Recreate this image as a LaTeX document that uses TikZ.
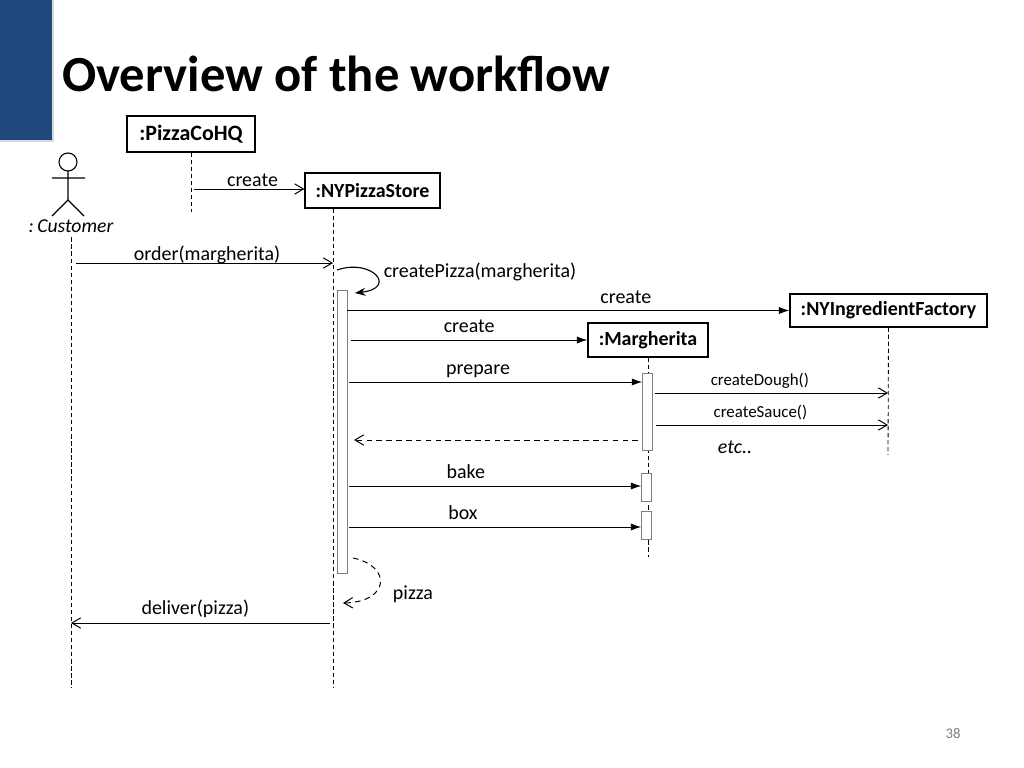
\documentclass[tikz,border=0pt]{standalone}
\usepackage{fontspec}
\setmainfont{Carlito}
\usetikzlibrary{arrows.meta}
\definecolor{slideblue}{HTML}{1F497D}
\definecolor{actgray}{HTML}{7F7F7F}

\begin{document}
\begin{tikzpicture}[x=0.025cm,y=-0.025cm,
    font=\fontsize{14.2}{17}\selectfont,
    obj/.style={draw,line width=0.9pt,fill=white,font=\fontsize{14.2}{17}\selectfont\bfseries},
    act/.style={draw=actgray,fill=white,minimum width=0.25cm,inner sep=0pt},
    life/.style={dash pattern=on 3pt off 2pt,line width=0.6pt},
    call/.style={-{Latex[length=2.6mm,width=1.8mm]},line width=0.7pt},
    msg/.style={-{Straight Barb[length=2.2mm,width=2.6mm]},line width=0.7pt},
    reply/.style={msg,dash pattern=on 4pt off 3pt},
    lbl/.style={anchor=base,yshift=5pt,inner sep=0pt},
    small/.style={font=\fontsize{12}{14}\selectfont}]
    \useasboundingbox (0,0) rectangle (1024,768);
    \fill[black!15] (0,0) rectangle (54,142);
    \fill[slideblue] (0,0) rectangle (52,140);
    \node[anchor=base west,inner sep=0pt,font=\fontsize{36}{42}\selectfont\bfseries] (title) at (62,92) {Overview of the workflow};

    % objects
    \node[obj,minimum width=3.2cm,minimum height=0.9cm,font=\fontsize{15.6}{18}\selectfont\bfseries] (hq) at (191,134) {:PizzaCoHQ};
    \node[obj,minimum width=3.375cm,minimum height=0.875cm] (store) at (372.5,190.5) {:NYPizzaStore};
    \node[obj,minimum width=4.925cm,minimum height=0.825cm] (fac) at (888.5,310.5) {:NYIngredientFactory};
    \node[obj,minimum width=3cm,minimum height=0.85cm] (mar) at (648,340) {:Margherita};

    % customer
    \draw[line width=0.8pt] (68,162) circle[radius=0.225cm];
    \draw[line width=0.8pt] (68,171) -- (68,200) (52,178) -- (85,178)
        (52,216) -- (68,200) -- (84,216);
    \node[font=\fontsize{14}{17}\selectfont\itshape] (cust) at (71,226) {:\,Customer};

    % lifelines
    \coordinate (hqend) at (191,212);
    \coordinate (custend) at (71,688);
    \coordinate (storeend) at (333,688);
    \coordinate (facend) at (888,455);
    \coordinate (marend) at (648,557);
    \draw[life] (hq.south) -- (hqend);
    \draw[life] (cust.south -| custend) -- (custend);
    \draw[life] (store.south -| storeend) -- (storeend);
    \draw[life] (fac.south) -- (facend);
    \draw[life] (mar.south) -- (marend);

    % activations
    \node[act,minimum height=7.075cm] (sact) at (342,431.5) {};
    \node[act,minimum height=1.925cm] (mact) at (647.5,411.5) {};
    \node[act,minimum height=0.7cm] (bact) at (646.5,487) {};
    \node[act,minimum height=0.7cm] (xact) at (646.5,525) {};

    % messages
    \coordinate (hqout) at (194,189);
    \draw[msg] (hqout) -- (store.west |- hqout) node[lbl,pos=0.53,yshift=-3.5pt] {create};
    \coordinate (ordout) at (76,263);
    \draw[msg] (ordout) -- (storeend |- ordout) node[lbl,pos=0.51,yshift=-3.5pt] {order(margherita)};
    \coordinate (selfout) at (337,270);
    \draw[-{Stealth[length=2.6mm,width=2mm]},line width=0.8pt] (selfout)
        .. controls (372,258) and (398,288) .. (355,293);
    \node[anchor=base] (cpz) at (480,277) {createPizza(margherita)};
    \draw[call] (sact.east |- fac.west) -- (fac.west) node[lbl,pos=0.63] {create};
    \coordinate (marout) at (351,340);
    \draw[call] (marout) -- (mar.west) node[lbl,pos=0.5] {create};
    \coordinate (prepout) at (349,382);
    \draw[call] (prepout) -- (mact.west |- prepout) node[lbl,pos=0.44] {prepare};
    \coordinate (dough) at (655,393);
    \draw[msg] (dough) -- (facend |- dough) node[lbl,small,pos=0.45] {createDough()};
    \coordinate (sauce) at (656,425);
    \draw[msg] (sauce) -- (facend |- sauce) node[lbl,small,pos=0.45] {createSauce()};
    \coordinate (ret) at (638,440);
    \coordinate (retend) at (354,440);
    \draw[reply] (ret) -- (retend);
    \node[anchor=base,font=\fontsize{14.2}{17}\selectfont\itshape] (etc) at (735,453) {etc..};
    \coordinate (bakeout) at (349,486);
    \draw[call] (bakeout) -- (bact.west |- bakeout) node[lbl,pos=0.4] {bake};
    \coordinate (boxout) at (349,527);
    \draw[call] (boxout) -- (xact.west |- boxout) node[lbl,pos=0.39] {box};
    \coordinate (pzout) at (353,558);
    \draw[reply] (pzout) .. controls (392,566) and (390,602) .. (343,603);
    \node[anchor=base] (pz) at (413,599) {pizza};
    \coordinate (delout) at (330,623);
    \draw[msg] (delout) -- (custend |- delout) node[lbl,pos=0.52,yshift=1pt] {deliver(pizza)};

    \node[text=gray,font=\fontsize{10.5}{12}\selectfont] (page) at (953,734) {38};
\end{tikzpicture}
\end{document}
